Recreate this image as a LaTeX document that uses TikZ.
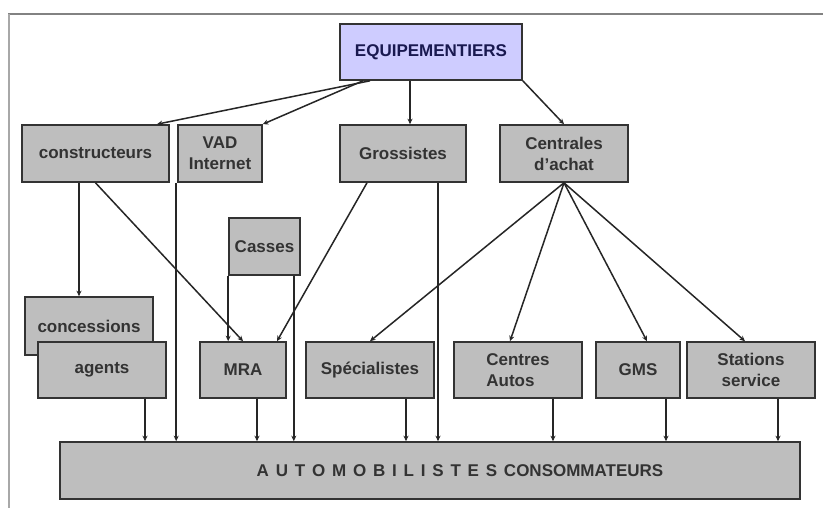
\documentclass[tikz,border=0pt]{standalone}
\usepackage{fontspec}
\setmainfont{Liberation Sans}
\usetikzlibrary{arrows.meta}

\definecolor{boxgray}{RGB}{190,190,190}
\definecolor{lavender}{RGB}{206,204,255}
\definecolor{navytext}{RGB}{25,25,80}
\definecolor{framegray}{RGB}{130,130,130}

\tikzset{
  box/.style={draw=black!80, line width=1.6pt, fill=boxgray, inner sep=0pt,
    align=center, text=black!80,
    font=\fontsize{17}{21}\selectfont\bfseries},
  link/.style={line width=1.5pt, draw=black!85,
    -{Stealth[length=5.5pt,width=5pt]}}
}

\begin{document}
\begin{tikzpicture}[x=1pt,y=-1pt]
      \fill[white] (0,0) rectangle (823,508);
      \useasboundingbox (0,0) rectangle (823,508);

      \draw[framegray, line width=2pt] (8,14) -- (823,14);
      \draw[framegray!70, line width=2pt] (9,14) -- (9,508);



      \node[box, fill=lavender, text=navytext, minimum width=182pt,
        minimum height=56pt] (equip) at (431,52) {EQUIPEMENTIERS};

      \node[box, minimum width=147pt, minimum height=57pt] (constr) at (95.5,153.5)
        {constructeurs};
      \node[box, minimum width=84pt, minimum height=57pt] (vad) at (220,153.5)
        {VAD\\Internet};
      \node[box, minimum width=126pt, minimum height=57pt] (gros) at (403,153.5)
        {Grossistes};
      \node[box, minimum width=128pt, minimum height=57pt] (centr) at (564,153.5)
        {Centrales\\d'achat};

      \node[box, minimum width=71pt, minimum height=57pt] (casses) at (264.5,246.5)
        {Casses};


      \node[box, minimum width=128pt, minimum height=58pt] (conc) at (89,326)
        {concessions};
      \node[box, minimum width=128pt, minimum height=56pt] (agents) at (102,370)
        {agents};
      \node[box, minimum width=86pt, minimum height=56pt] (mra) at (243,370)
        {MRA};
      \node[box, minimum width=128pt, minimum height=56pt] (spec) at (370,370)
        {Sp\'ecialistes};
      \node[box, minimum width=128pt, minimum height=56pt, align=left] (cauto)
        at (518,370) {Centres\\Autos};
      \node[box, minimum width=84pt, minimum height=56pt] (gms) at (638,370)
        {GMS};
      \node[box, minimum width=128pt, minimum height=56pt] (stat) at (751,370)
        {Stations\\service};

      \node[box, minimum width=740pt, minimum height=57pt] (auto) at (430,470.5)
        {\hspace*{60pt}{\spaceskip=6.8pt A U T O M O B I L I S T E S CONSOMMATEURS}};


      % equipementiers
      \draw[link] ([xshift=-61pt]equip.south) -- ([xshift=61.5pt]constr.north);
      \draw[link] ([xshift=-68pt]equip.south) -- (vad.north east);
      \draw[link] ([xshift=-21pt]equip.south) -- ([xshift=-21pt]equip.south |- gros.north);
      \draw[link] (equip.south east) -- (centr.north);

      \draw[link] ([xshift=-16.5pt]constr.south) -- ([xshift=-16.5pt]constr.south |- conc.north);
      \draw[link] (constr.south) -- (mra.north);
      \draw[link] ([xshift=-1pt]vad.south west) -- ([xshift=-1pt]vad.south west |- auto.north);

      \draw[link] (casses.south west) -- (casses.south west |- mra.north);
      \draw[link] ([xshift=-7pt]casses.south east) -- ([xshift=-7pt]casses.south east |- auto.north);

      \draw[link] ([xshift=-36pt]gros.south) -- ([xshift=34pt]mra.north);
      \draw[link] ([xshift=35pt]gros.south) -- ([xshift=35pt]gros.south |- auto.north);

      % centrales d'achat
      \draw[link] (centr.south) -- (spec.north);
      \draw[link] (centr.south) -- ([xshift=-8pt]cauto.north);
      \draw[link] (centr.south) -- ([xshift=9pt]gms.north);
      \draw[link] (centr.south) -- ([xshift=-6pt]stat.north);

      % vers les automobilistes
      \draw[link] ([xshift=43pt]agents.south) -- ([xshift=43pt]agents.south |- auto.north);
      \draw[link] ([xshift=14pt]mra.south) -- ([xshift=14pt]mra.south |- auto.north);
      \draw[link] ([xshift=36pt]spec.south) -- ([xshift=36pt]spec.south |- auto.north);
      \draw[link] ([xshift=35pt]cauto.south) -- ([xshift=35pt]cauto.south |- auto.north);
      \draw[link] ([xshift=28pt]gms.south) -- ([xshift=28pt]gms.south |- auto.north);
      \draw[link] ([xshift=27pt]stat.south) -- ([xshift=27pt]stat.south |- auto.north);
    \end{tikzpicture}
\end{document}
